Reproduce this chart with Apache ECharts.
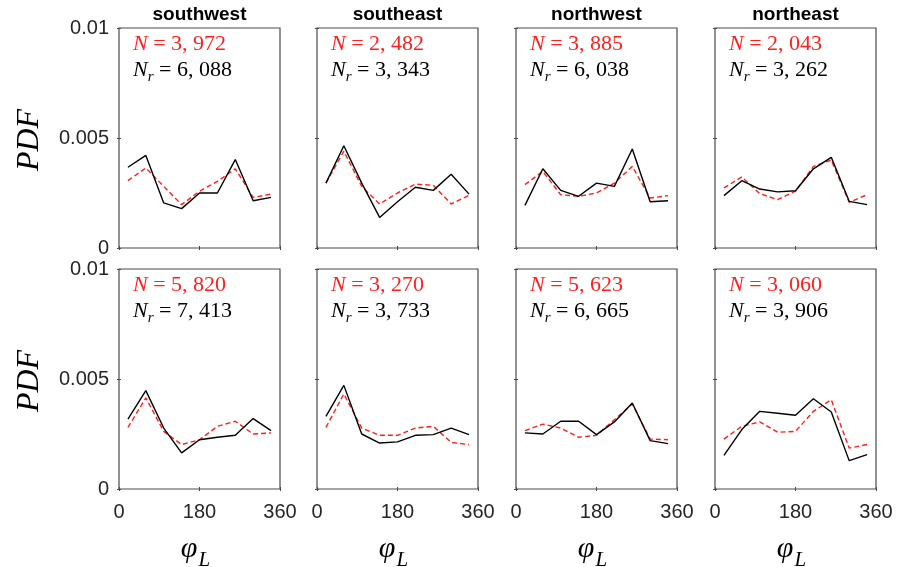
<!DOCTYPE html>
<html>
<head>
<meta charset="utf-8">
<script src="https://cdn.jsdelivr.net/npm/echarts@6/dist/echarts.min.js"></script>
<style>
  html, body { margin: 0; background: #fff; }
  #chart { width: 898px; height: 567px; }
</style>
</head>
<body>
<div id="chart"></div>
<script>
// bin centres (deg)
const angles = [20, 60, 100, 140, 180, 220, 260, 300, 340];
const regions = ['southwest', 'southeast', 'northwest', 'northeast'];
const xTicks = [0, 180, 360];
const yTicks = [0, 0.005, 0.01];

// top row : black = solid, red = dashed
const swTopBlack = [0.00367, 0.00421, 0.00205, 0.00179, 0.0025, 0.0025, 0.00402, 0.00215, 0.0023];
const swTopRed   = [0.00306, 0.00364, 0.0028, 0.00197, 0.00258, 0.00303, 0.0036, 0.0023, 0.00245];
const seTopBlack = [0.00295, 0.00465, 0.00295, 0.00139, 0.0021, 0.00276, 0.00262, 0.00335, 0.00245];
const seTopRed   = [0.00295, 0.0044, 0.0028, 0.002, 0.0025, 0.0029, 0.00285, 0.002, 0.0024];
const nwTopBlack = [0.00194, 0.0036, 0.00262, 0.00235, 0.00295, 0.0028, 0.0045, 0.0021, 0.00215];
const nwTopRed   = [0.00288, 0.00348, 0.00242, 0.00235, 0.0025, 0.00295, 0.00371, 0.00227, 0.00238];
const neTopBlack = [0.00238, 0.00306, 0.00268, 0.00255, 0.0026, 0.0036, 0.00412, 0.00212, 0.00197];
const neTopRed   = [0.00273, 0.00323, 0.00247, 0.0022, 0.00258, 0.00371, 0.004, 0.00208, 0.00242];

// bottom row
const swBotBlack = [0.00318, 0.00447, 0.00277, 0.00164, 0.00224, 0.00235, 0.00244, 0.0032, 0.00265];
const swBotRed   = [0.0028, 0.00414, 0.00262, 0.00202, 0.00224, 0.00285, 0.00308, 0.0025, 0.00255];
const seBotBlack = [0.0033, 0.00471, 0.0025, 0.00209, 0.00214, 0.00244, 0.00247, 0.00277, 0.00247];
const seBotRed   = [0.0028, 0.00432, 0.00277, 0.00244, 0.00244, 0.00277, 0.00285, 0.00212, 0.00202];
const nwBotBlack = [0.00255, 0.0025, 0.00308, 0.00308, 0.00247, 0.00305, 0.00391, 0.0022, 0.00206];
const nwBotRed   = [0.00265, 0.00295, 0.00277, 0.00235, 0.00244, 0.00315, 0.00386, 0.00227, 0.00224];
const neBotBlack = [0.00153, 0.0027, 0.00353, 0.00344, 0.00335, 0.0041, 0.0035, 0.00129, 0.00156];
const neBotRed   = [0.00227, 0.00285, 0.00305, 0.00258, 0.00262, 0.00353, 0.00406, 0.00186, 0.00202];

const nRedTop   = ['3, 972', '2, 482', '3, 885', '2, 043'];
const nBlackTop = ['6, 088', '3, 343', '6, 038', '3, 262'];
const nRedBot   = ['5, 820', '3, 270', '5, 623', '3, 060'];
const nBlackBot = ['7, 413', '3, 733', '6, 665', '3, 906'];

const blackSets = [swTopBlack, seTopBlack, nwTopBlack, neTopBlack, swBotBlack, seBotBlack, nwBotBlack, neBotBlack];
const redSets = [swTopRed, seTopRed, nwTopRed, neTopRed, swBotRed, seBotRed, nwBotRed, neBotRed];
const redLabels = nRedTop.concat(nRedBot);
const blackLabels = nBlackTop.concat(nBlackBot);

const colLeft = [119, 317, 516, 715];
const rowTop = [28, 269];
const panelW = 161, panelH = 220;
const axisColor = '#4a4a4a';
const textColor = '#262626';
const serif = '"Liberation Serif", serif';
const sans = '"Liberation Sans", Arial, sans-serif';
const tick = () => ({ show: true, inside: true, length: 2, lineStyle: { color: axisColor } });

const grid = [], xAxis = [], yAxis = [], series = [], graphic = [];

for (let p = 0; p < 8; p++) {
  const row = Math.floor(p / 4), col = p % 4;
  const left = colLeft[col], top = rowTop[row];
  grid.push({ left: left, top: top, width: panelW, height: panelH, show: true, borderColor: axisColor, borderWidth: 1.2, backgroundColor: '#fff' });

  xAxis.push({
    type: 'value', gridIndex: p, min: 0, max: 360, interval: 180,
    axisLine: { show: false }, splitLine: { show: false }, axisTick: tick(),
    axisLabel: { show: row === 1, margin: 13, fontSize: 20, color: textColor, fontFamily: sans,
      formatter: v => xTicks.includes(v) ? String(v) : '' }
  });
  yAxis.push({
    type: 'value', gridIndex: p, min: 0, max: 0.01, interval: 0.005,
    axisLine: { show: false }, splitLine: { show: false }, axisTick: tick(),
    axisLabel: { show: col === 0, margin: 10, fontSize: 20, color: textColor, fontFamily: sans,
      formatter: v => { const t = yTicks.find(y => Math.abs(y - v) < 1e-9); return t === undefined ? '' : String(t); } }
  });

  series.push({
    type: 'line', xAxisIndex: p, yAxisIndex: p, symbol: 'none', z: 3,
    data: angles.map((a, k) => [a, redSets[p][k]]),
    lineStyle: { color: '#ff1f1f', width: 1.4, type: [5, 3] }
  });
  series.push({
    type: 'line', xAxisIndex: p, yAxisIndex: p, symbol: 'none', z: 4,
    data: angles.map((a, k) => [a, blackSets[p][k]]),
    lineStyle: { color: '#000', width: 1.4 }
  });

  // N annotations
  graphic.push({
    type: 'text', left: left + 14, top: top + 5, z: 10,
    style: {
      text: '{i|N}{n| = ' + redLabels[p] + '}',
      rich: {
        i: { fontFamily: serif, fontStyle: 'italic', fontSize: 22, fill: '#ff1f1f' },
        n: { fontFamily: serif, fontSize: 22, fill: '#ff1f1f' }
      }
    }
  });
  graphic.push({
    type: 'text', left: left + 14, top: top + 31, z: 10,
    style: {
      text: '{i|N}{s|r}{n| = ' + blackLabels[p] + '}',
      rich: {
        i: { fontFamily: serif, fontStyle: 'italic', fontSize: 22, fill: '#000', verticalAlign: 'bottom' },
        s: { fontFamily: serif, fontStyle: 'italic', fontSize: 15, fill: '#000', verticalAlign: 'bottom', padding: [0, 0, -4, 0] },
        n: { fontFamily: serif, fontSize: 22, fill: '#000', verticalAlign: 'bottom' }
      }
    }
  });
}

// mirrored ticks on top / right (box on)
for (let p = 0; p < 8; p++) {
  xAxis.push({ type: 'value', gridIndex: p, position: 'top', min: 0, max: 360, interval: 180,
    axisLine: { show: false }, splitLine: { show: false }, axisLabel: { show: false }, axisTick: tick() });
  yAxis.push({ type: 'value', gridIndex: p, position: 'right', min: 0, max: 0.01, interval: 0.005,
    axisLine: { show: false }, splitLine: { show: false }, axisLabel: { show: false }, axisTick: tick() });
}

// column titles and x labels
regions.forEach((r, c) => {
  graphic.push({ type: 'text', x: colLeft[c] + panelW / 2, y: 15,
    style: { text: r, fontFamily: sans, fontWeight: 'bold', fontSize: 19, fill: '#000', align: 'center', verticalAlign: 'middle' } });
  graphic.push({ type: 'text', x: colLeft[c] + panelW / 2 - 4, y: 549,
    style: { text: '{i|φ}{s|L}', align: 'center', verticalAlign: 'middle',
      rich: {
        i: { fontFamily: serif, fontStyle: 'italic', fontSize: 30, fill: '#000', verticalAlign: 'bottom' },
        s: { fontFamily: serif, fontStyle: 'italic', fontSize: 21, fill: '#000', verticalAlign: 'bottom', padding: [0, 0, -7, 1] }
      } } });
});

// PDF y labels
rowTop.forEach(t => {
  graphic.push({ type: 'text', x: 30, y: t + panelH / 2 + 2, rotation: Math.PI / 2,
    style: { text: 'PDF', fontFamily: serif, fontStyle: 'italic', fontSize: 32, fill: '#000', align: 'center', verticalAlign: 'middle' } });
});

const chart = echarts.init(document.getElementById('chart'));
chart.setOption({
  animation: false,
  backgroundColor: '#fff',
  grid: grid, xAxis: xAxis, yAxis: yAxis, series: series, graphic: graphic
});
</script>
</body>
</html>
